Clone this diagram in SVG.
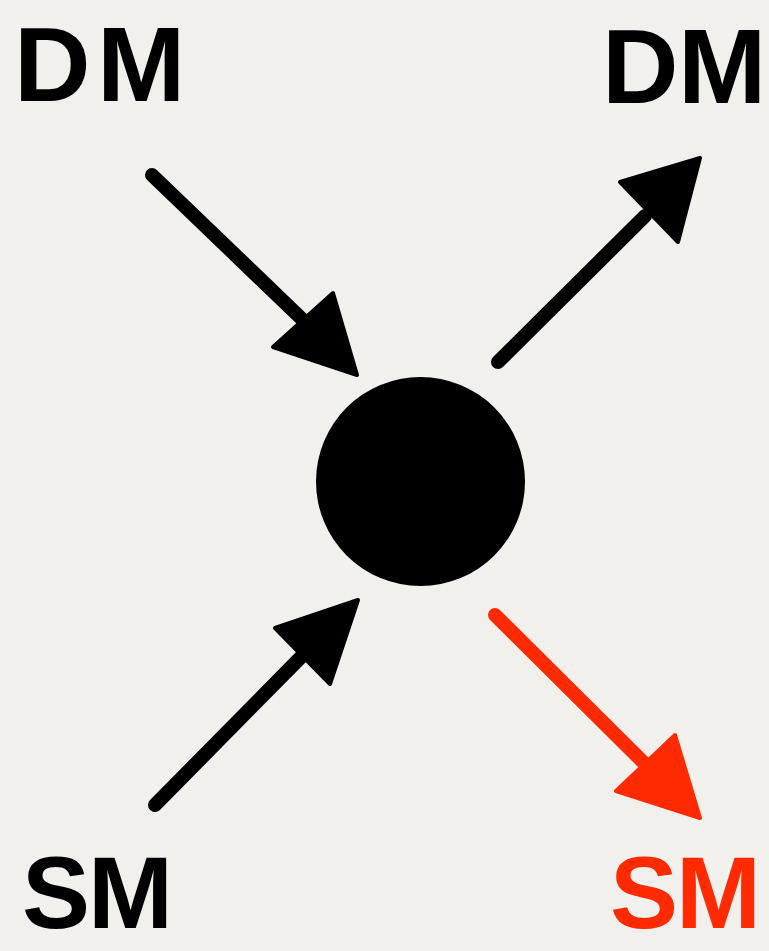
<svg xmlns="http://www.w3.org/2000/svg" width="769" height="951" viewBox="0 0 769 951">
<style>
.lbl{font-family:"Liberation Sans","DejaVu Sans",sans-serif;font-weight:bold;font-size:106px}
.lbb{font-family:"Liberation Sans","DejaVu Sans",sans-serif;font-weight:bold;font-size:102px}
.blk{fill:#000}
.red{fill:#ff2a00}
.sh{stroke-width:14;stroke-linecap:round;fill:none}
</style>
<rect width="769" height="951" fill="#f1f0ec"/>
<g id="node-center"><circle cx="420.5" cy="481.5" r="104.5" fill="#000"/></g>
<g id="label-dm-left"><text class="lbl blk" y="101"><tspan x="14">D</tspan><tspan x="97">M</tspan></text></g>
<g id="label-dm-right"><text class="lbl blk" y="103"><tspan x="602">D</tspan><tspan x="678">M</tspan></text></g>
<g id="label-sm-left"><text class="lbb blk" y="928"><tspan x="22">S</tspan><tspan x="88">M</tspan></text></g>
<g id="label-sm-right"><text class="lbb red" y="928"><tspan x="610">S</tspan><tspan x="676">M</tspan></text></g>
<g id="connectors">
<line class="sh" x1="152" y1="175" x2="305" y2="322" stroke="#000"/>
<polygon points="273,347 333,293 357,375" fill="#000" stroke="#000" stroke-width="4" stroke-linejoin="round"/>
<line class="sh" x1="498" y1="362" x2="645" y2="216" stroke="#000"/>
<polygon points="620,182 678,242 700,158" fill="#000" stroke="#000" stroke-width="4" stroke-linejoin="round"/>
<line class="sh" x1="155" y1="805" x2="302" y2="656" stroke="#000"/>
<polygon points="275,628 330,684 358,600" fill="#000" stroke="#000" stroke-width="4" stroke-linejoin="round"/>
<line class="sh" x1="495" y1="615" x2="643" y2="762" stroke="#ff2a00"/>
<polygon points="616,791 675,735 700,818" fill="#ff2a00" stroke="#ff2a00" stroke-width="4" stroke-linejoin="round"/>
</g>
</svg>
